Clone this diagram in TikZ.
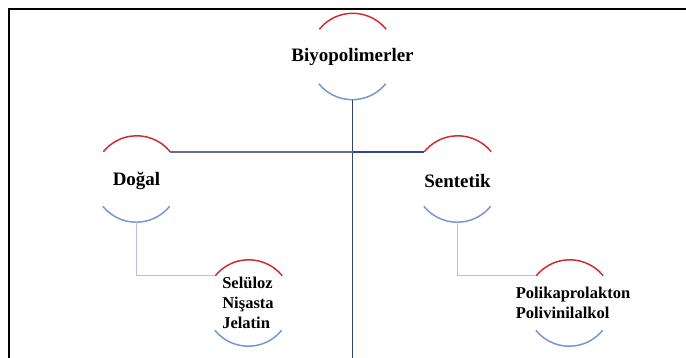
\documentclass[tikz,border=0pt]{standalone}
\usepackage{fontspec}
\setmainfont{Liberation Serif}
\usepackage{xcolor}
\definecolor{arcred}{RGB}{208,44,48}
\definecolor{arcblue}{RGB}{118,150,212}
\definecolor{trunkblue}{RGB}{47,68,112}
\definecolor{slateblue}{RGB}{95,110,140}
\definecolor{barblue}{RGB}{46,74,142}
\definecolor{twigblue}{RGB}{176,194,232}
\usetikzlibrary{positioning}
\tikzset{
  ring/.style={circle, minimum size=1.72cm, inner sep=0pt},
  mainlbl/.style={font=\fontsize{10.8}{13}\selectfont\bfseries, inner sep=0pt},
  leaflbl/.style={font=\fontsize{9.4}{11.4}\selectfont\bfseries, align=left, inner sep=0pt},
  toparc/.style={draw=arcred, line width=0.85pt},
  botarc/.style={draw=arcblue, line width=0.85pt},
  twig/.style={draw=twigblue, line width=0.8pt},
  frame/.style={draw=black, line width=1.4pt},
}

\begin{document}
\begin{tikzpicture}[x=0.02cm, y=0.02cm]
\useasboundingbox (0,0) rectangle (686,358);
\clip (0,0) rectangle (686,358);

% outer frame, cut by the page on the right and bottom
\draw[frame] (700,349) -- (9,349) -- (9,-10);

% circles of the hierarchy
\node[ring] (biyo) at (352.5,301.5) {};
\node[ring] (dogal) at (136.5,179) {};
\node[ring] (sent) at (457.5,179) {};
\node[ring] (selu) at (248.5,55) {};
\node[ring] (poli) at (569.5,55) {};

\foreach \n in {biyo,dogal,sent,selu,poli}{
  \draw[toparc] (\n.39) arc[start angle=39, end angle=141, radius=0.86cm];
  \draw[botarc] (\n.219) arc[start angle=219, end angle=321, radius=0.86cm];
}

% labels
\node[mainlbl] (biyolbl) at (biyo) {Biyopolimerler};
\node[mainlbl] (dogallbl) at (136.5,177) {Doğal};
\node[mainlbl] (sentlbl) at (457.5,177) {Sentetik};
\node[leaflbl] (selulbl) at (248,55) {Selüloz\\Nişasta\\Jelatin};
\node[leaflbl] (polilbl) at (573,55.5) {Polikaprolakton\\Polivinilalkol};

% main connectors
\coordinate (foot) at (biyo.south |- 0,-10);
\coordinate (hub) at (biyo.south |- dogal.39);
\draw[trunkblue, line width=0.85pt] (biyo.south) -- (foot);
\draw[slateblue, line width=1.1pt] (hub) -- (dogal.39);
\draw[barblue, line width=1.1pt] (hub) -- (sent.141);

% child connectors
\draw[twig] (dogal.south) |- (selu.141);
\draw[twig] (sent.south) |- (poli.141);

\end{tikzpicture}
\end{document}
